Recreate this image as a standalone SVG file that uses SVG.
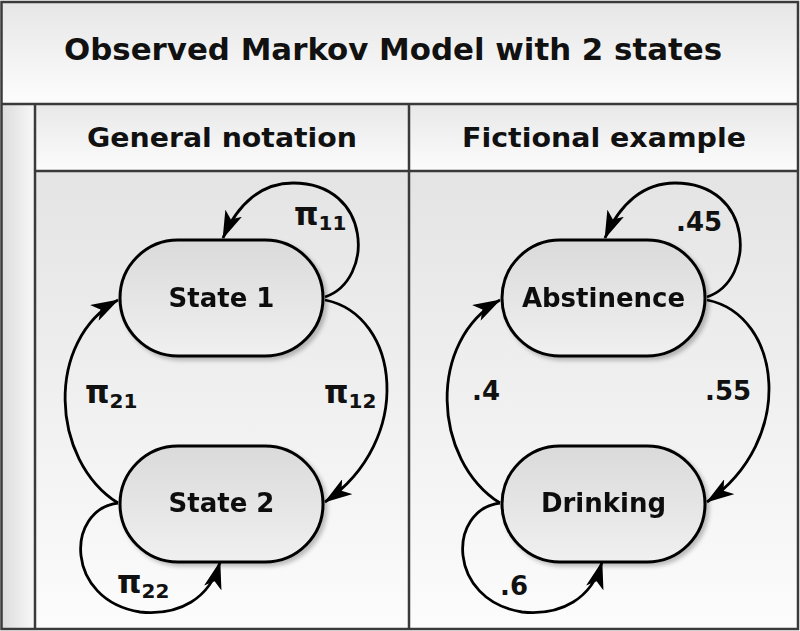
<svg xmlns="http://www.w3.org/2000/svg" width="800" height="631" viewBox="0 0 800 631">
<defs>
<linearGradient id="gTitle" x1="0" y1="0" x2="0" y2="1"><stop offset="0" stop-color="#e6e6e6"/><stop offset="1" stop-color="#fdfdfd"/></linearGradient>
<linearGradient id="gHead" x1="0" y1="0" x2="0" y2="1"><stop offset="0" stop-color="#e8e8e8"/><stop offset="1" stop-color="#fcfcfc"/></linearGradient>
<linearGradient id="gPanel" x1="0" y1="0" x2="0" y2="1"><stop offset="0" stop-color="#e4e4e4"/><stop offset="1" stop-color="#fcfcfc"/></linearGradient>
<linearGradient id="gStrip" x1="0" y1="0" x2="1" y2="0"><stop offset="0" stop-color="#dcdcdc"/><stop offset="1" stop-color="#f8f8f8"/></linearGradient>
<linearGradient id="gNode" x1="0" y1="0" x2="0" y2="1"><stop offset="0" stop-color="#dadada"/><stop offset="1" stop-color="#f0f0f0"/></linearGradient>
<filter id="sh" x="-10%" y="-10%" width="130%" height="140%"><feGaussianBlur in="SourceAlpha" stdDeviation="2"/><feOffset dx="3" dy="3"/><feComponentTransfer><feFuncA type="linear" slope="0.25"/></feComponentTransfer><feMerge><feMergeNode/><feMergeNode in="SourceGraphic"/></feMerge></filter>
<marker id="arr" viewBox="0 0 28 18" refX="27" refY="9" markerWidth="28" markerHeight="18" markerUnits="userSpaceOnUse" orient="auto"><path d="M0,0 L28,9 L0,18 L7,9 Z" fill="#000"/></marker>
</defs>
<style>
.frame{stroke:#3a3a3a;stroke-width:2.5;fill:none}
.node rect{fill:url(#gNode);stroke:#000;stroke-width:3}
.lbl{font-family:"DejaVu Sans","Liberation Sans",sans-serif;font-weight:bold;fill:#111}
.conn path{fill:none;stroke:#000;stroke-width:2.8;marker-end:url(#arr)}
</style>
<rect x="0" y="0" width="800" height="631" fill="#ffffff"/>
<rect x="1.5" y="2" width="796.5" height="102" fill="url(#gTitle)"/>
<rect x="1.5" y="104" width="33.5" height="525" fill="url(#gStrip)"/>
<rect x="35" y="104" width="763" height="67" fill="url(#gHead)"/>
<rect x="35" y="171" width="763" height="458" fill="url(#gPanel)"/>
<g class="frame">
<rect x="1.5" y="2" width="796.5" height="627"/>
<line x1="1.5" y1="104" x2="798" y2="104"/>
<line x1="35" y1="104" x2="35" y2="629"/>
<line x1="35" y1="171" x2="798" y2="171"/>
<line x1="409" y1="104" x2="409" y2="629"/>
</g>
<text class="lbl" x="393" y="60" font-size="31" text-anchor="middle" textLength="658" lengthAdjust="spacingAndGlyphs">Observed Markov Model with 2 states</text>
<text class="lbl" x="222" y="147" font-size="26" text-anchor="middle" textLength="270" lengthAdjust="spacingAndGlyphs">General notation</text>
<text class="lbl" x="604" y="147" font-size="26" text-anchor="middle" textLength="284" lengthAdjust="spacingAndGlyphs">Fictional example</text>
<g id="state1" class="node" filter="url(#sh)"><rect x="120" y="240" width="203" height="116" rx="58"/><text class="lbl" x="221.5" y="307" font-size="26" text-anchor="middle">State 1</text></g>
<g id="state2" class="node" filter="url(#sh)"><rect x="120" y="446" width="203" height="116" rx="58"/><text class="lbl" x="221.5" y="512" font-size="26" text-anchor="middle">State 2</text></g>
<g id="abstinence" class="node" filter="url(#sh)"><rect x="502" y="240" width="203" height="116" rx="58"/><text class="lbl" x="603.5" y="307" font-size="26" text-anchor="middle">Abstinence</text></g>
<g id="drinking" class="node" filter="url(#sh)"><rect x="502" y="446" width="203" height="116" rx="58"/><text class="lbl" x="603.5" y="512" font-size="26" text-anchor="middle">Drinking</text></g>
<g id="connectors" class="conn">
<path d="M325,297 C375,280 372,183 293,183 C262,183 238,203 223,238"/>
<path d="M325,300 C400,315 415,440 325,502"/>
<path d="M118,503 C50,460 45,340 118,300"/>
<path d="M118,503 C65,510 65,600 140,612 C180,616 210,598 220,562"/>
<path d="M707,297 C757,280 754,183 675,183 C644,183 620,203 605,238"/>
<path d="M707,300 C782,315 797,440 707,502"/>
<path d="M500,503 C432,460 427,340 500,300"/>
<path d="M500,503 C447,510 447,600 522,612 C562,616 592,598 602,562"/>
</g>
<g id="labels" class="lbl">
<text x="294" y="225" font-size="31">π<tspan font-size="20" dy="5">11</tspan></text>
<text x="324" y="403" font-size="31">π<tspan font-size="20" dy="5">12</tspan></text>
<text x="85" y="403" font-size="31">π<tspan font-size="20" dy="5">21</tspan></text>
<text x="117" y="593" font-size="31">π<tspan font-size="20" dy="5">22</tspan></text>
<text x="676" y="231" font-size="26">.45</text>
<text x="705" y="400" font-size="26">.55</text>
<text x="472" y="400" font-size="26">.4</text>
<text x="500" y="595" font-size="26">.6</text>
</g>
</svg>
